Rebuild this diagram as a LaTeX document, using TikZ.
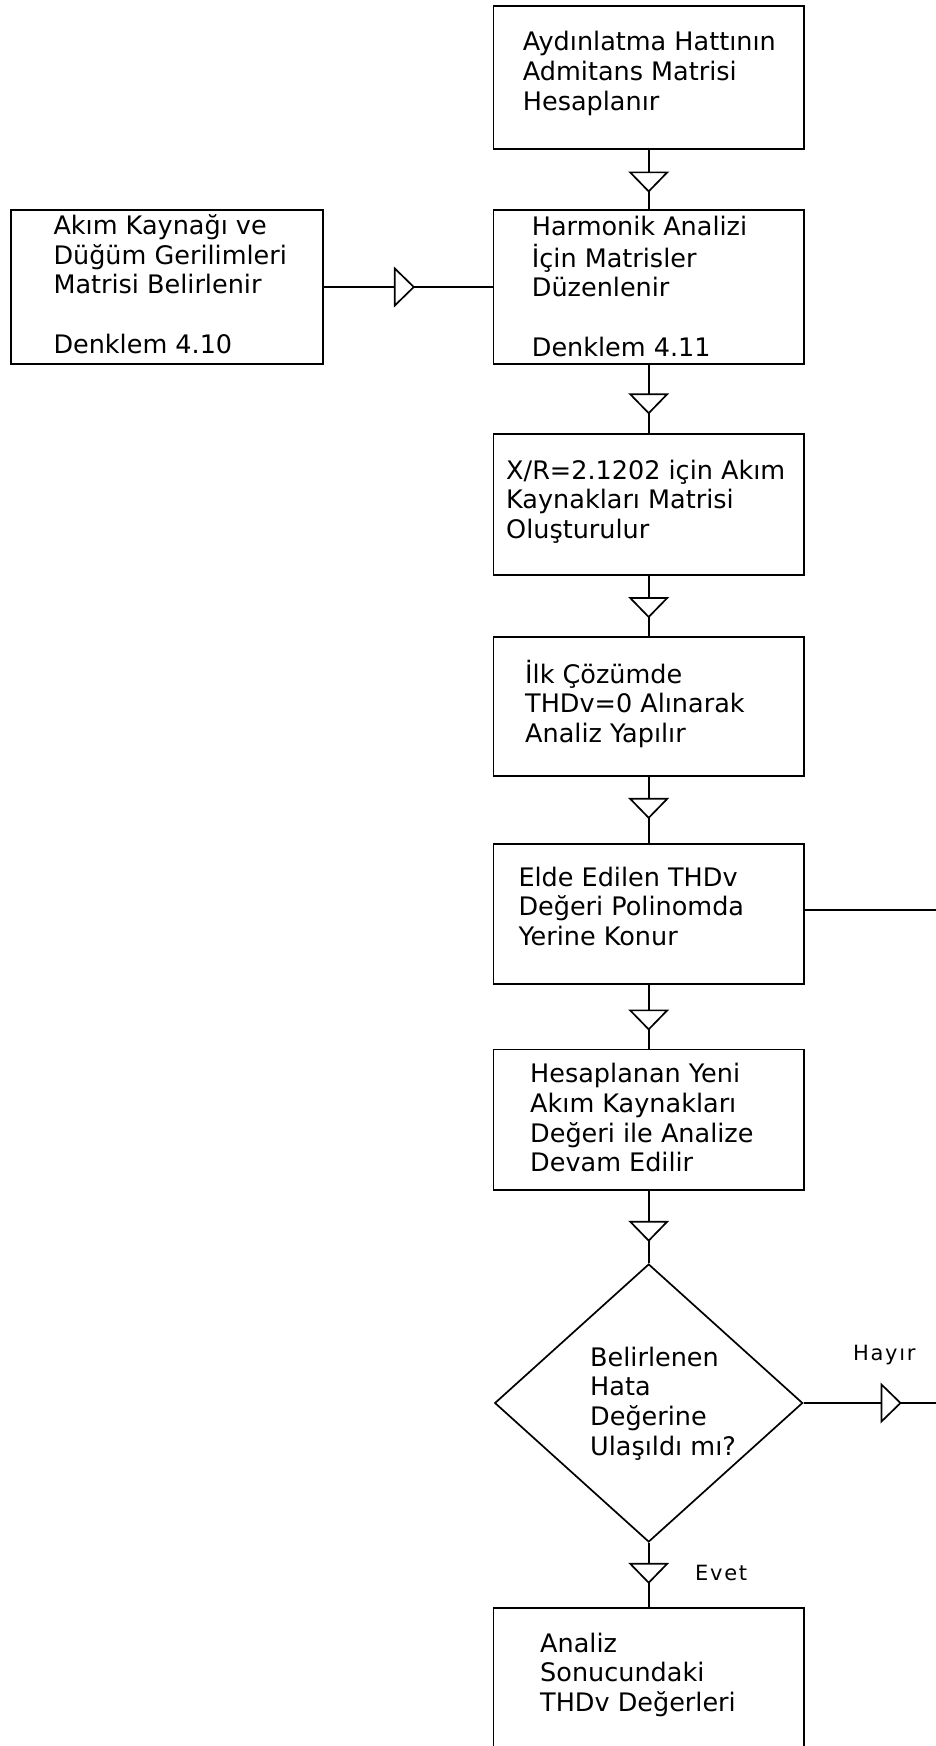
\documentclass[tikz,border=0pt]{standalone}
\usepackage{fontspec}
\setmainfont{DejaVu Sans}
\usetikzlibrary{shapes.geometric,decorations.markings}
\newcommand{\mlines}[1]{\begin{tabular}[t]{@{}l@{}}#1\end{tabular}}
\begin{document}
\begin{tikzpicture}[x=1pt,y=-1pt,
  box/.style={draw=black, line width=1.7pt, rectangle, minimum width=310.7pt, inner sep=0pt},
  txt/.style={anchor=base west, inner sep=0pt, font=\fontsize{25.5pt}{29.7pt}\selectfont},
  lbl/.style={anchor=base west, inner sep=0pt, font=\fontsize{21pt}{25pt}\selectfont\addfontfeature{LetterSpace=8}},
  flow/.style={line width=1.7pt, postaction={decorate},
    decoration={markings, mark=at position #1 with {\draw[fill=white,line width=1.7pt] (-9.5,-18.5) -- (9.5,0) -- (-9.5,18.5) -- cycle;}}}
]
\clip (0,0) rectangle (936,1746);
\fill[white] (0,0) rectangle (936,1746);
% boxes
\node[box, minimum height=143pt] (b1) at (648.7,77.5) {};
\node[box, minimum width=312pt, minimum height=154pt] (L) at (166.7,287) {};
\node[box, minimum height=153.5pt] (b2) at (648.7,287) {};
\node[box, minimum height=141pt] (b3) at (648.7,504.5) {};
\node[box, minimum height=139pt] (b4) at (648.7,706.2) {};
\node[box, minimum height=140pt] (b5) at (648.7,914) {};
\node[box, minimum height=140.7pt] (b6) at (648.7,1119.7) {};
\node[draw=black, line width=1.7pt, diamond, minimum width=308pt, minimum height=278pt, inner sep=0pt] (D) at (648.7,1403) {};
\node[box, minimum height=180pt] (b7) at (648.7,1697.7) {};
% texts
\node[txt] (t1) at (522.7,50.7) {\mlines{Aydınlatma Hattının\\Admitans Matrisi\\Hesaplanır}};
\node[txt] (tL) at (53.3,234.3) {\mlines{Akım Kaynağı ve\\Düğüm Gerilimleri\\Matrisi Belirlenir\\ \\Denklem 4.10}};
\node[txt] (t2) at (531.7,235) {\mlines{Harmonik Analizi\\İçin Matrisler\\Düzenlenir\\ \\Denklem 4.11}};
\node[txt] (t3) at (506,479) {\mlines{X/R=2.1202 için Akım\\Kaynakları Matrisi\\Oluşturulur}};
\node[txt] (t4) at (525,683) {\mlines{İlk Çözümde\\THDv=0 Alınarak\\Analiz Yapılır}};
\node[txt] (t5) at (518.3,886) {\mlines{Elde Edilen THDv\\Değeri Polinomda\\Yerine Konur}};
\node[txt] (t6) at (530,1082.7) {\mlines{Hesaplanan Yeni\\Akım Kaynakları\\Değeri ile Analize\\Devam Edilir}};
\node[txt] (tD) at (590,1366) {\mlines{Belirlenen\\Hata\\Değerine\\Ulaşıldı mı?}};
\node[txt] (t7) at (540,1652) {\mlines{Analiz\\Sonucundaki\\THDv Değerleri}};
\node[lbl] (hayir) at (853,1360) {Hayır};
\node[lbl] (evet) at (695,1580.7) {Evet};
% connectors
\draw[flow=0.538] (b1) -- (b2);
\draw[flow=0.478] (L) -- (b2);
\draw[flow=0.57] (b2) -- (b3);
\draw[flow=0.527] (b3) -- (b4);
\draw[flow=0.477] (b4) -- (b5);
\draw[flow=0.55] (b5) -- (b6);
\draw[flow=0.557] (b6) -- (D);
\draw[flow=0.474] (D) -- (b7);
\coordinate (r1) at (940,910);
\draw[line width=1.7pt] (r1 -| b5.east) -- (r1);
\coordinate (r2) at (936,1403);
\draw[flow=0.66] (D) -- (r2);
\end{tikzpicture}
\end{document}
